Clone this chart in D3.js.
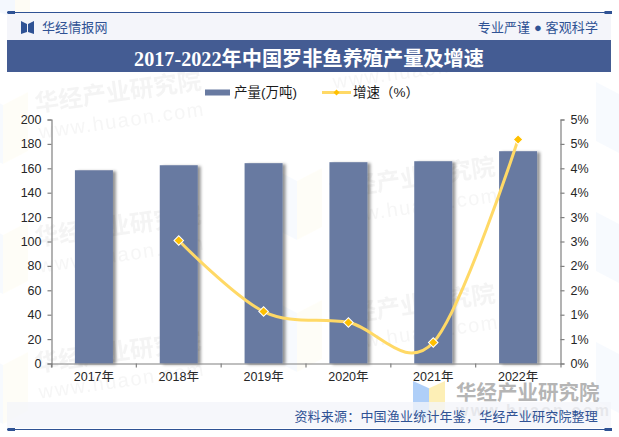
<!DOCTYPE html>
<html>
<head>
<meta charset="utf-8">
<script src="https://cdn.jsdelivr.net/npm/d3@7"></script>
<style>
  html, body { margin: 0; padding: 0; background: #fff; }
  svg { display: block; }
  text { font-family: "Liberation Sans", "Noto Sans CJK SC", sans-serif; }
</style>
</head>
<body>
<svg id="chart" width="619" height="437"></svg>
<script>
'use strict';
// chart data
var years = ['2017年', '2018年', '2019年', '2020年', '2021年', '2022年'];
var output = [158.4, 162.5, 164.2, 165, 165.8, 174];
var growth = [null, 2.52, 1.065, 0.84, 0.43, 4.59];
var leftTicks = [0, 20, 40, 60, 80, 100, 120, 140, 160, 180, 200];
var rightTicks = [0, 0.5, 1, 1.5, 2, 2.5, 3, 3.5, 4, 4.5, 5];
var rightLabels = ['0%', '1%', '1%', '2%', '2%', '3%', '3%', '4%', '4%', '5%', '5%'];

var svg = d3.select('#chart');
var NAVY = '#2f5294';
var BAND = '#445c93';
var BAR = '#687aa1';
var LINE = '#ffd966';
var MARK = '#ffc000';
var AXIS = '#808080';

var plot = {left: 51.5, right: 560.5, top: 119.5, bottom: 363.5};

var x = d3.scaleBand().domain(years).range([plot.left, plot.right]);
var yLeft = d3.scaleLinear().domain([0, 200]).range([plot.bottom, plot.top]);
var yRight = d3.scaleLinear().domain([0, 5]).range([plot.bottom, plot.top]);

var defs = svg.append('defs');
defs.append('filter')
    .attr('id', 'barshadow')
    .attr('x', '-20%').attr('width', '150%')
    .attr('y', '-5%').attr('height', '110%')
  .append('feDropShadow')
    .attr('dx', 3).attr('dy', 1)
    .attr('stdDeviation', 1.6)
    .attr('flood-color', '#000')
    .attr('flood-opacity', 0.42);

// faint watermark tiles behind everything
function watermark(px, py, opacity) {
  var g = svg.append('g')
    .attr('transform', `translate(${px},${py}) rotate(-8)`)
    .attr('opacity', opacity);
  g.append('text')
    .attr('font-size', 24).attr('font-weight', 700)
    .attr('fill', '#b8b8b8')
    .text('华经产业研究院');
  g.append('text')
    .attr('y', 27)
    .attr('font-size', 20)
    .attr('letter-spacing', 1.6)
    .attr('fill', '#c4c4c4')
    .text('www.huaon.com');
}
function logoBlock(px, py, w, h, opacity) {
  var g = svg.append('g').attr('opacity', opacity);
  var path = d3.path();
  path.moveTo(px, py);
  path.lineTo(px + w / 2, py + h * 0.18);
  path.lineTo(px + w / 2, py + h);
  path.lineTo(px, py + h * 0.82);
  path.closePath();
  g.append('path').attr('d', path.toString()).attr('fill', '#7fb2f5');
  var path2 = d3.path();
  path2.moveTo(px + w, py);
  path2.lineTo(px + w / 2, py + h * 0.18);
  path2.lineTo(px + w / 2, py + h);
  path2.lineTo(px + w, py + h * 0.82);
  path2.closePath();
  g.append('path').attr('d', path2.toString()).attr('fill', '#fde68a');
}
[[36, 112], [36, 246], [36, 372], [330, 198], [330, 325], [330, 62]].forEach(d => watermark(d[0], d[1], 0.15));
[[-22, 92], [-22, 222], [-22, 352], [272, 168], [272, 300], [596, 82], [596, 212], [596, 342]].forEach(d => logoBlock(d[0], d[1], 50, 72, 0.06));
logoBlock(0, -12, 30, 30, 0.08);

// header and footer frames
svg.append('rect').attr('x', 7).attr('y', 13).attr('width', 604).attr('height', 27).attr('fill', '#f4f5fa');
svg.append('rect').attr('x', 7).attr('y', 40).attr('width', 604).attr('height', 32).attr('fill', BAND);
[12.5, 429.5].forEach(ly => {
  svg.append('line').attr('x1', 7).attr('x2', 612).attr('y1', ly).attr('y2', ly)
    .attr('stroke', NAVY).attr('stroke-width', 1);
  svg.append('rect').attr('x', 7.5).attr('y', ly - 1.5).attr('width', 7.5).attr('height', 3).attr('fill', NAVY);
  svg.append('rect').attr('x', 604.5).attr('y', ly - 1.5).attr('width', 7.5).attr('height', 3).attr('fill', NAVY);
});

// header logo
svg.append('path')
  .attr('d', 'M21,21 L27,24 L27,32 L21,34 Z M34,21 L28,24 L28,32 L34,34 Z')
  .attr('fill', NAVY);
svg.append('text').attr('x', 42).attr('y', 32)
  .attr('font-size', 13).attr('letter-spacing', 0.1).attr('fill', NAVY)
  .text('华经情报网');
svg.append('text').attr('x', 598).attr('y', 32)
  .attr('text-anchor', 'end')
  .attr('font-size', 13).attr('letter-spacing', 0.1).attr('fill', NAVY)
  .text('专业严谨 ● 客观科学');
svg.append('text').attr('x', 309).attr('y', 66)
  .attr('text-anchor', 'middle')
  .attr('font-size', 20.2).attr('font-weight', 700).attr('fill', '#fff')
  .style('font-family', '"Liberation Serif", "Noto Sans CJK SC", serif')
  .text('2017-2022年中国罗非鱼养殖产量及增速');

// legend
svg.append('rect').attr('x', 205).attr('y', 89.5).attr('width', 25).attr('height', 6).attr('fill', BAR);
svg.append('text').attr('x', 234).attr('y', 97)
  .attr('font-size', 13.5).attr('fill', '#1a1a1a').text('产量(万吨)');
svg.append('line').attr('x1', 322).attr('x2', 351).attr('y1', 92.5).attr('y2', 92.5)
  .attr('stroke', LINE).attr('stroke-width', 3);
svg.append('path')
  .attr('d', d3.symbol(d3.symbolSquare, 18)())
  .attr('transform', 'translate(336.5,92.5) rotate(45)')
  .attr('fill', MARK);
svg.append('text').attr('x', 353).attr('y', 97)
  .attr('font-size', 13.5).attr('fill', '#1a1a1a').text('增速（%）');

// bars
svg.append('g').selectAll('rect').data(output).join('rect')
  .attr('x', (d, i) => x(years[i]) + (x.bandwidth() - 38) / 2)
  .attr('y', d => yLeft(d))
  .attr('width', 38)
  .attr('height', d => yLeft(0) - yLeft(d))
  .attr('fill', BAR)
  .attr('filter', 'url(#barshadow)');

// axes
function styleAxis(g) {
  g.selectAll('path, line').attr('stroke', AXIS).attr('stroke-width', 1.2);
  g.selectAll('text')
    .attr('font-size', 12.5)
    .attr('fill', '#262626')
    .style('font-family', '"Liberation Sans", "Noto Sans CJK SC", sans-serif');
}
svg.append('g')
    .attr('transform', `translate(${plot.left},0)`)
    .call(d3.axisLeft(yLeft).tickValues(leftTicks).tickSize(4).tickSizeOuter(4).tickPadding(6))
    .call(styleAxis);
svg.append('g')
    .attr('transform', `translate(${plot.right},0)`)
    .call(d3.axisRight(yRight).tickValues(rightTicks)
      .tickFormat((d, i) => rightLabels[i]).tickSize(4).tickSizeOuter(4).tickPadding(6))
    .call(styleAxis);
var xAxis = svg.append('g')
    .attr('transform', `translate(0,${plot.bottom})`)
    .call(d3.axisBottom(x).tickSize(0).tickSizeOuter(4).tickPadding(9))
    .call(styleAxis);
// category ticks sit on the band edges
xAxis.selectAll('line.edge').data(years).join('line')
    .attr('class', 'edge')
    .attr('x1', d => x(d)).attr('x2', d => x(d))
    .attr('y1', 0).attr('y2', 4)
    .attr('stroke', AXIS).attr('stroke-width', 1.2);

// growth line
var points = years.map((c, i) => ({c: c, v: growth[i]})).filter(d => d.v !== null);
var line = d3.line()
  .x(d => x(d.c) + x.bandwidth() / 2)
  .y(d => yRight(d.v))
  .curve(d3.curveCardinal.tension(0));
svg.append('path')
  .datum(points)
  .attr('d', line)
  .attr('fill', 'none')
  .attr('stroke', LINE)
  .attr('stroke-width', 3)
  .attr('stroke-linecap', 'round');
svg.append('g').selectAll('path').data(points).join('path')
  .attr('d', d3.symbol(d3.symbolSquare, 46)())
  .attr('transform', d => `translate(${x(d.c) + x.bandwidth() / 2},${yRight(d.v)}) rotate(45)`)
  .attr('fill', MARK)
  .attr('stroke', '#fff')
  .attr('stroke-width', 1);

// bottom right brand mark, over the axis labels
logoBlock(413, 381, 32, 40, 0.62);
svg.append('text').attr('x', 456).attr('y', 400)
  .attr('font-size', 20.5).attr('font-weight', 700).attr('fill', '#b5b5b5')
  .text('华经产业研究院');
svg.append('text').attr('x', 456).attr('y', 416)
  .attr('font-size', 16).attr('font-weight', 700).attr('letter-spacing', 2.2).attr('fill', '#b5b5b5')
  .text('www.huaon.com');
svg.append('rect').attr('x', 7).attr('y', 402).attr('width', 604).attr('height', 26)
  .attr('fill', '#f4f5fa').attr('opacity', 0.78);
svg.append('text').attr('x', 598).attr('y', 421)
  .attr('text-anchor', 'end')
  .attr('font-size', 13).attr('letter-spacing', 0.2).attr('fill', NAVY)
  .text('资料来源：中国渔业统计年鉴，华经产业研究院整理');
</script>
</body>
</html>
